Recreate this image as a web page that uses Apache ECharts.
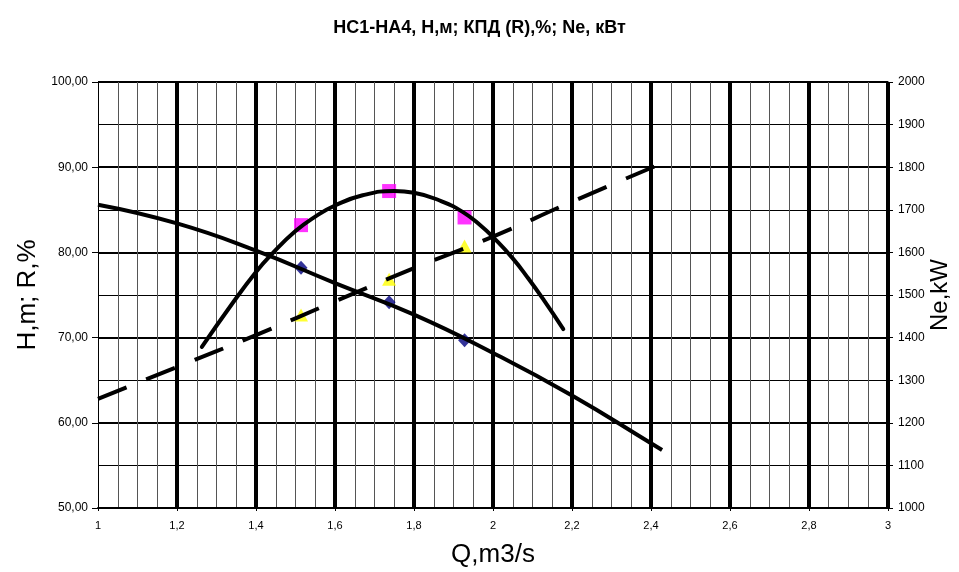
<!DOCTYPE html>
<html>
<head>
<meta charset="utf-8">
<script src="https://cdn.jsdelivr.net/npm/echarts@6/dist/echarts.min.js"></script>
<style>
html,body{margin:0;padding:0;background:#fff;}
#chart{width:959px;height:572px;}
</style>
</head>
<body>
<div id="chart"></div>
<script>
// ---- data ----
const titleText = 'НС1-НА4, Н,м; КПД (R),%; Ne, кВт';
const xName = 'Q,m3/s';
const yLeftName = 'H,m; R,%';
const yRightName = 'Ne,kW';

// measured points (Q)
const qPts = [1.514, 1.737, 1.928];
const hPts = [78.2, 74.15, 69.7];      // blue diamonds, H
const rPts = [83.2, 87.2, 84.1];       // magenta squares, efficiency
const nePts = [1453, 1537, 1615];      // yellow triangles, Ne (right axis)

// H curve (solid, descending)
const qH = [1.0, 1.2, 1.4, 1.6, 1.8, 2.0, 2.2, 2.4, 2.428];
const hCurve = [85.6, 83.4, 80.2, 76.4, 72.7, 68.2, 63.2, 57.6, 56.8];

// efficiency curve (solid arch)
const qR = [1.263, 1.34, 1.40, 1.44, 1.50, 1.55, 1.60, 1.67, 1.75, 1.80, 1.87, 1.925, 1.97, 2.00, 2.05, 2.09, 2.13, 2.178];
const rCurve = [68.9, 74.0, 77.7, 79.8, 82.5, 84.2, 85.5, 86.7, 87.2, 87.0, 86.0, 84.7, 83.1, 81.8, 79.3, 76.9, 74.3, 71.0];

// Ne curve (dashed, right axis)
const qNe = [1.0, 1.2, 1.4, 1.6, 1.8, 2.0, 2.2, 2.43];
const neCurve = [1256, 1331, 1406, 1485, 1563, 1637, 1719, 1810];

function pairs(xs, ys){ return xs.map((x,i)=>[x, ys[i]]); }

const FONT = 'Liberation Sans, Arial, sans-serif';
const chart = echarts.init(document.getElementById('chart'), null, {renderer:'canvas'});

chart.setOption({
  animation: false,
  backgroundColor: '#fff',
  title: {
    text: titleText,
    left: 'center',
    top: 14,
    textStyle: {fontFamily: FONT, fontSize: 18, fontWeight: 'bold', color: '#000'}
  },
  grid: {left: 98, right: 71, top: 82, bottom: 64, containLabel: false, outerBoundsMode: 'none'},
  xAxis: {
    type: 'value', min: 1, max: 3, interval: 0.2,
    name: xName, nameLocation: 'middle', nameGap: 34,
    nameTextStyle: {fontFamily: FONT, fontSize: 26, color: '#000'},
    axisLine: {show: true, lineStyle: {color: '#000', width: 2}},
    axisTick: {show: true, length: 3, lineStyle: {color: '#000'}},
    axisLabel: {
      margin: 12, fontFamily: FONT, fontSize: 11, color: '#000',
      formatter: v => String(Math.round(v*10)/10).replace('.', ',')
    },
    splitLine: {show: true, showMinLine: false, lineStyle: {color: '#000', width: 4}},
    minorTick: {show: false, splitNumber: 4},
    minorSplitLine: {show: true, lineStyle: {color: '#555', width: 1}}
  },
  yAxis: [
    {
      type: 'value', min: 50, max: 100, interval: 10, position: 'left',
      name: yLeftName, nameLocation: 'middle', nameGap: 56,
      nameTextStyle: {fontFamily: FONT, fontSize: 26, color: '#000'},
      axisLine: {show: true, lineStyle: {color: '#000', width: 1}},
      axisTick: {show: true, length: 6, lineStyle: {color: '#000'}},
      axisLabel: {
        margin: 10, fontFamily: FONT, fontSize: 12, color: '#000',
        formatter: v => v.toFixed(2).replace('.', ',')
      },
      splitLine: {show: true, lineStyle: {color: '#000', width: 2}},
      minorTick: {show: false, splitNumber: 2},
      minorSplitLine: {show: true, lineStyle: {color: '#000', width: 1}}
    },
    {
      type: 'value', min: 1000, max: 2000, interval: 100, position: 'right',
      name: yRightName, nameLocation: 'middle', nameGap: 40, nameMoveOverlap: false,
      nameTextStyle: {fontFamily: FONT, fontSize: 24, color: '#000'},
      axisLine: {show: true, lineStyle: {color: '#000', width: 1}},
      axisTick: {show: true, length: 5, lineStyle: {color: '#000'}},
      axisLabel: {margin: 10, fontFamily: FONT, fontSize: 12, color: '#000',
        formatter: v => String(v)},
      splitLine: {show: false}
    }
  ],
  series: [
    {
      type: 'scatter', z: 2, symbol: 'rect', symbolSize: 14,
      itemStyle: {color: '#ff00ff'},
      data: pairs(qPts, rPts)
    },
    {
      type: 'scatter', z: 2, symbol: 'diamond', symbolSize: [13, 14],
      itemStyle: {color: '#000080'},
      data: pairs(qPts, hPts)
    },
    {
      type: 'scatter', z: 2, symbol: 'triangle', symbolSize: [14, 13], yAxisIndex: 1,
      itemStyle: {color: '#ffff00'},
      data: pairs(qPts, nePts)
    },
    {
      type: 'line', z: 3, smooth: true, showSymbol: false, symbol: 'none',
      lineStyle: {color: '#000', width: 4},
      data: pairs(qH, hCurve)
    },
    {
      type: 'line', z: 3, smooth: true, showSymbol: false, symbol: 'none',
      lineStyle: {color: '#000', width: 4, cap: 'round'},
      data: pairs(qR, rCurve)
    },
    {
      type: 'line', z: 3, smooth: true, showSymbol: false, symbol: 'none', yAxisIndex: 1,
      lineStyle: {color: '#000', width: 4, type: [31, 21], cap: 'butt'},
      data: pairs(qNe, neCurve)
    }
  ]
});
</script>
</body>
</html>
